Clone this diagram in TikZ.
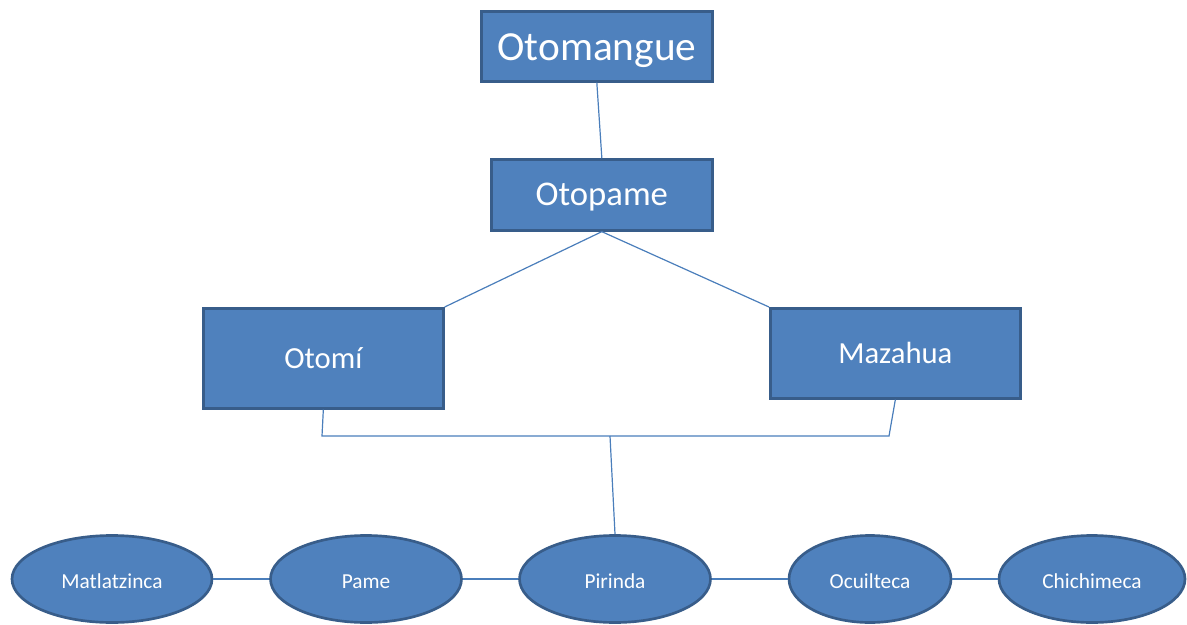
\documentclass[tikz,border=0pt]{standalone}
\usepackage{fontspec}
\setmainfont{Carlito}
\usetikzlibrary{shapes.geometric}
\definecolor{boxfill}{HTML}{4F81BD}
\definecolor{boxline}{HTML}{385D8A}
\definecolor{conn}{HTML}{4A7EBB}
\tikzset{
  x=0.75pt, y=-0.75pt,
  rbox/.style={draw=boxline, line width=2pt, fill=boxfill, text=white, inner sep=0pt, anchor=north west, text depth=0pt},
  lang/.style={ellipse, draw=boxline, line width=2pt, fill=boxfill, text=white, inner sep=0pt, font=\fontsize{16}{19}\selectfont, text height=13.5pt, text depth=0pt},
  link/.style={draw=conn, line width=0.9pt},
}
\begin{document}
\begin{tikzpicture}
\useasboundingbox (0,0) rectangle (1187,624);
% boxes
\node[rbox, minimum width=231*0.75pt, minimum height=70*0.75pt, font=\fontsize{31}{36}\selectfont, text height=21.5pt] (otomangue) at (480,10) {Otomangue};
\node[rbox, minimum width=221*0.75pt, minimum height=71*0.75pt, font=\fontsize{26}{30}\selectfont, text height=16.5pt] (otopame) at (490,158) {Otopame};
\node[rbox, minimum width=240*0.75pt, minimum height=100*0.75pt, font=\fontsize{23}{28}\selectfont, text height=15.5pt] (otomi) at (202,307) {Otomí};
\node[rbox, minimum width=250*0.75pt, minimum height=90*0.75pt, font=\fontsize{23}{28}\selectfont, text height=15.5pt] (mazahua) at (769,307) {Mazahua};
% ellipses
\node[lang, minimum width=200*0.75pt, minimum height=87*0.75pt] (matl) at (112,579) {Matlatzinca};
\node[lang, minimum width=191*0.75pt, minimum height=87*0.75pt] (pame) at (366,579) {Pame};
\node[lang, minimum width=191*0.75pt, minimum height=87*0.75pt] (pirinda) at (615,579) {Pirinda};
\node[lang, minimum width=162*0.75pt, minimum height=87*0.75pt] (ocuil) at (870,579) {Ocuilteca};
\node[lang, minimum width=186*0.75pt, minimum height=87*0.75pt] (chichi) at (1092,579) {Chichimeca};
% junction coordinates
\coordinate (jl) at (322,436);
\coordinate (jr) at (889,436);
\coordinate (jm) at (610,436);
% connectors
\draw[link] (otomangue.south) -- (otopame.north);
\draw[link] (otopame.south) -- (otomi.north east);
\draw[link] (otopame.south) -- (mazahua.north west);
\draw[link] (otomi.south) -- (jl) -- (jr) -- (mazahua.south);
\draw[link] (jm) -- (pirinda.north);
\draw[link] (matl) -- (pame);
\draw[link] (pame) -- (pirinda);
\draw[link] (pirinda) -- (ocuil);
\draw[link] (ocuil) -- (chichi);
\end{tikzpicture}
\end{document}
